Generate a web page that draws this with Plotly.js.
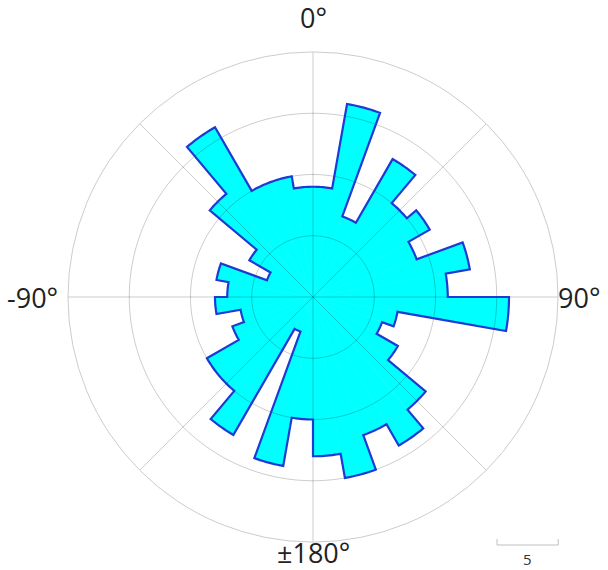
<!DOCTYPE html>
<html>
<head>
<meta charset="utf-8">
<script src="https://cdn.plot.ly/plotly-3.0.1.min.js"></script>
<style>html,body{margin:0;padding:0;background:#fff;}#chart{width:608px;height:570px;}</style>
</head>
<body>
<div id="chart"></div>
<script>
// Bin centres (degrees, clockwise from north) and counts per 10° bin
const binCenters = [5,15,25,35,45,55,65,75,85,95,105,115,125,135,145,155,165,175,
                    185,195,205,215,225,235,245,255,265,275,285,295,305,315,325,335,345,355];
const binCounts  = [9,16,7,13,10,11,9,13,11,16,7,6,8,12,14,12,15,13,
                    10,14,3,13,10,10,7,6,8,7,8,4,6,11,16,10,10,9];
const binWidth = 10;
const ringValues = [5,10,15];
const spokeAngles = [0,45,90,135];
const labelAngles = [0,90,180,270];
const labelTexts = ['0°','90°','±180°','-90°'];
const rMax = 20;
const scaleBarValue = 5;

const gridColor = 'rgba(0,0,0,0.2)';
const fontFam = '"Open Sans", "Noto Sans", sans-serif';

const traces = [{
  type: 'barpolar',
  theta: binCenters,
  r: binCounts,
  width: binCenters.map(() => binWidth),
  marker: {color: '#00ffff', line: {color: '#00ffff', width: 0.6}},
  hoverinfo: 'skip'
}];
// grid overlay (drawn above the bars, as in the reference)
ringValues.forEach(rv => {
  const th = [], rr = [];
  for (let a = 0; a <= 360; a += 2) { th.push(a); rr.push(rv); }
  traces.push({type:'scatterpolar', mode:'lines', theta: th, r: rr,
    line:{color:gridColor, width:1}, hoverinfo:'skip', showlegend:false});
});
spokeAngles.forEach(a => {
  traces.push({type:'scatterpolar', mode:'lines', theta:[a, a, a+180], r:[rMax, 0, rMax],
    line:{color:gridColor, width:1}, hoverinfo:'skip', showlegend:false});
});
// outline of the histogram (union of the bins, no inner edges)
const outTh = [], outR = [];
binCenters.forEach((c, i) => {
  const a0 = c - binWidth/2, a1 = c + binWidth/2;
  for (let a = a0; a <= a1 + 1e-9; a += 1) { outTh.push(a); outR.push(binCounts[i]); }
});
outTh.push(outTh[0]); outR.push(outR[0]);
traces.push({type:'scatterpolar', mode:'lines', theta: outTh, r: outR,
  line:{color:'#1d3ad4', width:2.2}, hoverinfo:'skip', showlegend:false});

const W = 608, H = 570;
const cx = 313, cy = 297, R = 245;
const pxPerUnit = R / rMax;
const barX0 = 497, barY = 545;
const barX1 = barX0 + scaleBarValue * pxPerUnit;

// angular labels placed just outside the outer ring
const labelPos = {
  0:   {x: cx, y: cy - R - 34, xa: 'center'},
  90:  {x: cx + R - 2, y: cy, xa: 'left'},
  180: {x: cx, y: cy + R + 10, xa: 'center'},
  270: {x: cx - R - 8, y: cy, xa: 'right'}
};
const annotations = labelAngles.map((a, i) => ({
  xref:'paper', yref:'paper', x: labelPos[a].x / W, y: 1 - labelPos[a].y / H,
  text: labelTexts[i], showarrow:false, xanchor: labelPos[a].xa, yanchor:'middle',
  font:{size:27, color:'#222', family: fontFam}
}));
annotations.push({xref:'paper', yref:'paper', x: (barX0+barX1)/2/W, y: 1-559/H, text: String(scaleBarValue), showarrow:false,
  font:{size:15, color:'#333', family: fontFam}, xanchor:'center', yanchor:'middle'});

const layout = {
  width: W, height: H,
  margin: {l:0, r:0, t:0, b:0},
  paper_bgcolor: '#fff',
  showlegend: false,
  font: {family: fontFam, color: '#222'},
  polar: {
    domain: {x: [(cx-R)/W, (cx+R)/W], y: [1-(cy+R)/H, 1-(cy-R)/H]},
    bgcolor: 'rgba(0,0,0,0)',
    bargap: 0,
    radialaxis: {range: [0, rMax], showgrid: false, showticklabels: false, ticks: '', showline: false},
    angularaxis: {
      rotation: 90, direction: 'clockwise',
      showgrid: false, showline: true, linecolor: '#cccccc', linewidth: 1,
      ticks: '', showticklabels: false
    }
  },
  shapes: [
    {type:'line', xref:'paper', yref:'paper', x0: barX0/W, x1: barX1/W, y0: 1-barY/H, y1: 1-barY/H, line:{color:'#c0c0c0', width:1}},
    {type:'line', xref:'paper', yref:'paper', x0: barX0/W, x1: barX0/W, y0: 1-barY/H, y1: 1-(barY-6)/H, line:{color:'#c0c0c0', width:1}},
    {type:'line', xref:'paper', yref:'paper', x0: barX1/W, x1: barX1/W, y0: 1-barY/H, y1: 1-(barY-6)/H, line:{color:'#c0c0c0', width:1}}
  ],
  annotations: annotations
};
Plotly.newPlot('chart', traces, layout, {displayModeBar:false, staticPlot:true});
</script>
</body>
</html>
